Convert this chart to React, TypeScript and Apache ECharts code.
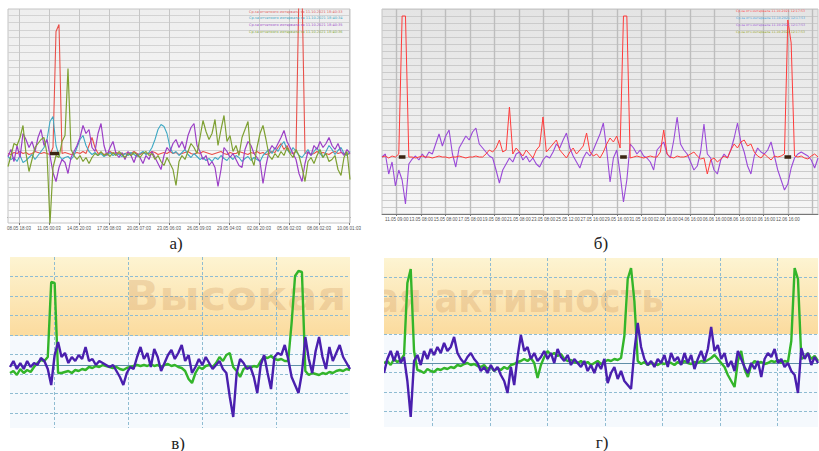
import React, { useEffect, useRef } from "react";
import * as echarts from "echarts";

// ---------- tick labels & legends ----------
const labelsA = ["08.05 18:03","11.05 00:03","14.05 20:03","17.05 08:03","20.05 07:03","23.05 06:03","26.05 09:03","29.05 04:03","02.06 20:03","05.06 02:03","08.06 02:03","10.06 01:03"];
const labelsB = ["11.05 09:00","13.05 08:00","15.05 08:00","17.05 08:00","19.05 08:00","21.05 08:00","23.05 08:00","25.05 12:00","27.05 16:00","29.05 16:00","31.05 16:00","02.06 16:00","04.06 16:00","06.06 16:00","08.06 16:00","10.06 16:00","12.06 16:00","14.06 16:00"];
const legendA = [
  "Ср.за отчетного интервала за 11.10.2021 18:40:33",
  "Ср.за отчетного интервала за 11.10.2021 18:40:34",
  "Ср.за отчетного интервала за 11.10.2021 18:40:35",
  "Ср.за отчетного интервала за 11.10.2021 18:40:36",
];
const legendB = [
  "Ср.за отч.интервала 11.10.2021 12:17:53",
  "Ср.за отч.интервала 11.10.2021 12:17:53",
  "Ср.за отч.интервала 11.10.2021 12:17:53",
  "Ср.за отч.интервала 11.10.2021 12:17:53",
];
const panelLetters = ["а)", "б)", "в)", "г)"];
const watermarkLeft = "Высокая";
const watermarkRight = "ая активность";

// ---------- panel а ----------
const redA = [64,63,65,64,66,64,65,63,64,66,65,64,65,64,63,70,186,193,64,65,
 64,63,64,65,64,66,64,72,80,70,64,65,63,64,66,64,65,64,63,64,
 65,64,66,64,63,65,64,64,66,65,63,64,65,64,66,64,65,63,64,65,
 66,64,63,65,64,66,65,64,63,64,65,66,64,63,65,64,64,66,65,64,
 63,65,64,66,64,65,63,64,66,65,70,74,68,72,65,64,66,230,230,64,
 65,63,64,66,64,65,64,63,65,66,64,65,64,63,64];
const tealA = [61,58,60,56,62,55,57,60,63,58,
 62,66,70,78,96,101,72,62,58,60,
 61,58,62,70,78,82,72,66,63,65,
 62,64,61,63,65,62,64,63,61,64,
 62,65,63,61,64,66,63,65,70,78,
 88,93,91,84,70,64,66,62,65,68,
 63,60,64,61,58,60,57,59,56,60,
 58,62,59,57,61,58,62,60,56,59,
 61,57,60,58,56,62,65,68,64,70,
 66,72,76,68,64,70,66,62,60,64,
 68,62,66,70,64,60,66,72,68,63,
 67,70,64,62,66];
const purpleA = [61,68,56,72,60,84,78,70,76,66,
 80,88,72,78,62,45,36,50,58,55,
 44,60,66,72,80,92,84,88,70,66,
 84,94,72,62,70,76,64,60,65,58,
 66,62,55,64,60,54,62,58,66,60,
 54,48,62,70,66,74,78,70,76,68,
 82,90,94,72,66,58,62,52,56,50,
 31,48,70,66,60,64,58,52,50,68,
 76,72,64,60,56,34,52,66,72,68,
 74,80,87,76,70,64,58,44,36,54,
 66,62,72,68,76,70,74,80,72,68,
 74,66,62,68,64];
const oliveA = [51,62,74,72,80,92,64,46,58,70,
 74,78,80,64,-6,50,62,60,76,82,
 149,68,62,58,62,56,60,54,60,64,
 62,66,62,64,61,65,62,66,63,60,
 64,62,65,63,60,64,66,62,64,58,
 62,56,52,60,54,48,32,56,62,58,
 66,74,70,64,80,97,86,78,84,98,
 72,88,102,76,82,66,72,62,80,88,
 96,60,52,70,84,92,78,62,58,64,
 60,66,62,70,64,60,68,62,50,36,
 56,60,54,62,68,60,64,56,58,62,
 48,42,60,66,38];
const markersA = [[14, 17]];
const baseA = 64;

// ---------- panel б ----------
const redB = [57,58,56,58,57,60,198,198,57,57,
 56,57,58,57,57,56,57,58,57,57,
 56,57,57,58,57,56,57,57,58,57,
 57,60,64,62,66,74,62,64,107,60,
 66,62,58,64,60,56,64,68,97,62,
 66,70,74,64,60,56,62,66,60,64,
 68,81,62,58,60,56,62,70,76,72,
 78,66,198,198,56,57,58,57,56,57,
 58,57,57,62,84,60,57,56,58,57,
 57,58,60,62,58,55,56,40,54,56,
 52,55,58,56,64,70,66,72,74,68,
 70,62,58,56,60,57,54,58,57,58,
 60,194,171,58,57,58,56,55,58,60,57];
const purpleB = [57,60,40,52,28,44,34,10,50,55,
 58,54,60,56,62,60,70,80,68,78,
 84,60,47,66,72,78,74,82,86,70,
 66,62,58,56,44,31,44,50,56,52,
 60,62,54,58,52,56,50,47,54,58,
 56,62,70,66,74,81,66,58,52,46,
 56,62,58,64,72,80,91,64,32,56,
 64,40,12,34,70,66,60,64,58,56,
 52,44,64,68,72,60,56,74,97,70,
 64,60,52,44,48,62,90,60,56,44,
 40,54,60,56,64,76,91,72,62,48,
 40,58,66,62,60,64,72,58,44,34,
 24,30,46,56,60,62,60,58,54,46,56];
const markersB = [[5, 7], [71, 73], [120, 122]];
const baseB = 57;

// ---------- panel в ----------
const greenC = [40,42,38,44,40,43,41,46,50,53,
 52,56,131,130,40,40,41,42,40,43,
 42,44,43,46,45,47,46,48,47,46,
 45,46,44,43,45,46,47,48,47,48,
 47,49,47,48,46,48,49,47,48,46,
 45,42,34,30,40,46,44,47,48,46,
 50,56,52,58,60,46,42,36,44,46,
 45,47,46,52,56,55,57,54,53,54,
 52,52,90,137,142,141,42,38,40,39,
 38,40,39,41,40,42,43,42,44,43];
const purpleC = [46,52,44,50,44,52,46,50,48,55,
 52,44,28,58,71,56,60,50,56,52,
 58,54,66,52,54,48,52,50,48,46,
 48,42,36,28,40,46,44,56,66,54,
 60,46,64,56,42,50,58,63,54,60,
 68,52,58,40,46,54,48,56,50,44,
 48,52,44,40,16,-4,40,54,50,44,
 46,36,20,48,58,40,24,56,60,58,
 68,54,36,28,20,40,76,54,40,62,
 76,56,44,66,52,60,68,56,50,44];
const bandC = 77;
const baselineC = 48;

// ---------- panel г ----------
const greenD = [48,50,46,52,49,51,56,128,142,60,
 41,40,38,42,40,39,42,41,43,42,
 44,43,46,45,47,48,46,47,45,44,
 46,42,44,40,43,41,44,42,46,47,
 49,50,52,50,53,48,33,46,54,60,
 56,58,55,57,52,50,51,49,48,50,
 47,49,46,48,50,47,49,51,50,52,
 51,53,75,132,143,110,50,47,49,46,
 48,47,46,48,47,49,48,46,49,47,
 50,48,47,49,48,50,49,51,53,56,
 52,48,44,36,30,24,50,60,42,34,
 46,50,48,49,47,48,50,49,51,48,
 50,49,70,143,132,52,54,58,52,55,50];
const purpleD = [38,52,60,50,60,48,54,30,-6,50,
 56,46,60,52,62,56,64,58,68,60,
 64,74,58,52,48,54,58,52,48,40,
 44,38,46,40,44,36,30,18,44,26,
 54,76,60,64,52,58,50,54,60,52,
 58,48,62,54,50,56,46,52,48,44,
 50,40,46,38,48,42,52,28,38,44,
 32,40,30,26,22,60,88,64,52,46,
 50,44,52,48,56,44,58,50,54,46,
 58,48,56,42,52,60,50,62,84,60,
 66,52,58,44,50,40,60,52,44,38,
 48,42,50,34,52,58,54,62,48,52,
 44,48,40,36,18,63,52,58,46,54,48];
const bandD = 77;
const baselineD = 48;

// ---------- helpers ----------
function spread(vals: number[]) {
  const n = vals.length;
  return vals.map((v, i) => [i / (n - 1), v]);
}
function markerSeg(range: number[], n: number, base: number) {
  const out: number[][] = [];
  for (let i = range[0]; i <= range[1]; i++) out.push([i / (n - 1), base]);
  return out;
}

export default function App() {
  const ref = useRef<HTMLDivElement>(null);
  useEffect(() => {
    if (!ref.current) return;
    const chart = echarts.init(ref.current, null, { renderer: "svg" });

    const grad = (c1: string, c2: string) =>
      new echarts.graphic.LinearGradient(0, 0, 0, 1, [
        { offset: 0, color: c1 },
        { offset: 1, color: c2 },
      ]);

    const grids: any[] = [];
    const xAxes: any[] = [];
    const yAxes: any[] = [];
    const hidden = { axisLine: { show: false }, axisTick: { show: false }, axisLabel: { show: false }, splitLine: { show: false } };

    // data grid
    const addData = (rect: number[], yr: number[], bg: any, border: boolean, axisLine: boolean, ySplit?: any) => {
      const idx = grids.length;
      grids.push({ left: rect[0], top: rect[1], width: rect[2], height: rect[3], show: true, backgroundColor: bg, borderWidth: border ? 1 : 0, borderColor: "#c4c4c4", containLabel: false, outerBoundsMode: "none" });
      xAxes.push({ type: "value", gridIndex: idx, min: 0, max: 1, ...hidden, axisLine: { show: axisLine, lineStyle: { color: "#777", width: 1 } } });
      yAxes.push({ type: "value", gridIndex: idx, min: yr[0], max: yr[1], ...hidden, ...(ySplit ? { interval: ySplit.interval, splitLine: { show: true, lineStyle: ySplit.style } } : {}) });
      return idx;
    };
    // vertical gridlines grid
    const addV = (rect: number[], interval: number, steps: number, style: any, labels?: string[], alignLast = false) => {
      const idx = grids.length;
      grids.push({ left: rect[0], top: rect[1], width: rect[2], height: rect[3], show: false, containLabel: false, outerBoundsMode: "none" });
      xAxes.push({
        type: "value", gridIndex: idx, min: 0, max: interval * steps, interval, z: 1.2,
        axisLine: { show: false },
        axisTick: { show: !!labels, length: 2, lineStyle: { color: "#777" } },
        axisLabel: labels
          ? { show: true, fontSize: 4.5, color: "#555", margin: 3, alignMaxLabel: alignLast ? "right" : undefined, formatter: (v: number) => labels[Math.round(v / interval)] ?? "" }
          : { show: false },
        splitLine: { show: true, lineStyle: style },
      });
      yAxes.push({ type: "value", gridIndex: idx, min: 0, max: 1, ...hidden });
    };
    // horizontal gridlines grid
    const addH = (rect: number[], interval: number, steps: number, style: any) => {
      const idx = grids.length;
      grids.push({ left: rect[0], top: rect[1], width: rect[2], height: rect[3], show: false, containLabel: false, outerBoundsMode: "none" });
      xAxes.push({ type: "value", gridIndex: idx, min: 0, max: 1, ...hidden });
      yAxes.push({ type: "value", gridIndex: idx, min: 0, max: interval * steps, interval, z: 1.2, axisLine: { show: false }, axisTick: { show: false }, axisLabel: { show: false }, splitLine: { show: true, lineStyle: style } });
    };

    const dash = { color: "#8fbcd2", width: 1, type: [3, 2] };

    // panel а
    const gA = addData([8, 9, 342, 214], [-5.5, 208.5], grad("#eeeeee", "#fbfbfb"), true, true);
    addV([19, 9, 330, 214], 30, 11, { color: "#c6c6c6", width: 1 }, labelsA);
    addH([8, 15, 342, 202.5], 7.5, 27, { color: "#d3d3d3", width: 1 });
    // panel б
    const gB = addData([382, 9, 436, 205], [0, 205], grad("#e4e4e4", "#f6f6f6"), true, true, { interval: 205 / 29, style: { color: "#cbcbcb", width: 1 } });
    addV([396.7, 9, 415.65, 205], 24.45, 17, { color: "#bdbdbd", width: 1.4 }, labelsB, true);
    // panel в
    const gC = addData([10, 257, 340, 171], [-15, 156], "#f5f9fd", false, false);
    addV([54, 257, 222.6, 171], 74.2, 3, dash);
    addH([10, 276.5, 340, 136.5], 19.5, 7, dash);
    // panel г
    const gD = addData([384, 258, 434, 169], [-16, 153], "#f5f9fd", false, false);
    addV([432.3, 258, 345, 169], 57.5, 6, dash);
    addH([384, 277, 434, 134], 19.14, 7, dash);

    const line = (name: string, data: number[][], g: number, color: string, width: number, z = 2) => ({
      name,
      type: "line",
      xAxisIndex: g,
      yAxisIndex: g,
      data,
      showSymbol: false,
      symbol: "none",
      z,
      lineStyle: { color, width },
      itemStyle: { color },
    });
    const band = (from: number, to: number) => ({
      silent: true,
      z: 1,
      itemStyle: { color: grad("#fdf4d2", "#fbdb9e") },
      data: [[{ yAxis: from }, { yAxis: to }]],
    });
    const base = (v: number) => ({
      silent: true,
      z: 1.6,
      symbol: ["none", "none"],
      label: { show: false },
      lineStyle: { color: "#5f8fa8", width: 1.2, type: "solid" },
      data: [{ yAxis: v }],
    });

    const series: any[] = [
      line("redA", spread(redA), gA, "#e8504a", 1.1),
      line("tealA", spread(tealA), gA, "#3fa9c4", 1.1),
      line("purpleA", spread(purpleA), gA, "#9b3fc6", 1.2),
      line("oliveA", spread(oliveA), gA, "#7ea032", 1.2),
      ...markersA.map((r, k) => line("markA" + k, markerSeg(r, redA.length, baseA), gA, "#3a2412", 3.5, 3)),
      line("purpleB", spread(purpleB), gB, "#9a4ad8", 1.1),
      line("redB", spread(redB), gB, "#ff3b3b", 1),
      ...markersB.map((r, k) => line("markB" + k, markerSeg(r, redB.length, baseB), gB, "#3a2412", 3.5, 3)),
      { ...line("greenC", spread(greenC), gC, "#33b52a", 2.4), markArea: band(bandC, 156), markLine: base(baselineC) },
      line("purpleC", spread(purpleC), gC, "#4a1fae", 2.4),
      { ...line("greenD", spread(greenD), gD, "#33b52a", 2.4), markArea: band(bandD, 153), markLine: base(baselineD) },
      line("purpleD", spread(purpleD), gD, "#4a1fae", 2.4),
    ];

    const legendColorsA = ["#e06060", "#40a6c4", "#a050c8", "#86a83c"];
    const legendColorsB = ["#ff5050", "#4aa8e0", "#a060d8", "#9aaa30"];
    const graphics: any[] = [];
    legendA.forEach((t, i) =>
      graphics.push({ type: "text", x: 249, y: 11.5 + i * 6.8, z: 10, style: { text: t, fontSize: 3.5, fill: legendColorsA[i], fontFamily: "DejaVu Sans", verticalAlign: "middle" } })
    );
    legendB.forEach((t, i) =>
      graphics.push({ type: "text", x: 736, y: 11 + i * 7, z: 10, style: { text: t, fontSize: 3.2, fill: legendColorsB[i], fontFamily: "DejaVu Sans", verticalAlign: "middle" } })
    );
    graphics.push({
      type: "text", x: 125, y: 296, z: 1.5, scaleX: 1.12,
      style: { text: watermarkLeft, fontSize: 40, fontWeight: "bold", fontFamily: "DejaVu Sans", fill: "rgba(200,140,80,0.26)", verticalAlign: "middle" },
    });
    graphics.push({
      type: "text", x: 375, y: 298, z: 1.5, scaleX: 0.89,
      style: { text: watermarkRight, fontSize: 40, fontWeight: "bold", fontFamily: "DejaVu Sans", fill: "rgba(200,140,80,0.26)", verticalAlign: "middle" },
    });
    graphics.push({ type: "rect", z: 20, shape: { x: 351, y: 252, width: 33, height: 180 }, style: { fill: "#ffffff" } });
    const letterPos = [[176, 243], [601, 243], [178, 443], [602, 442]];
    panelLetters.forEach((t, i) =>
      graphics.push({
        type: "text", x: letterPos[i][0], y: letterPos[i][1], z: 21,
        style: { text: t, fontSize: 17, fontFamily: "Liberation Serif", fill: "#222", align: "center", verticalAlign: "middle" },
      })
    );

    chart.setOption({
      animation: false,
      backgroundColor: "#ffffff",
      grid: grids,
      xAxis: xAxes,
      yAxis: yAxes,
      series,
      graphic: graphics,
    });
    return () => chart.dispose();
  }, []);
  return <div ref={ref} style={{ width: 819, height: 451, position: "absolute", left: 0, top: 0 }} />;
}
